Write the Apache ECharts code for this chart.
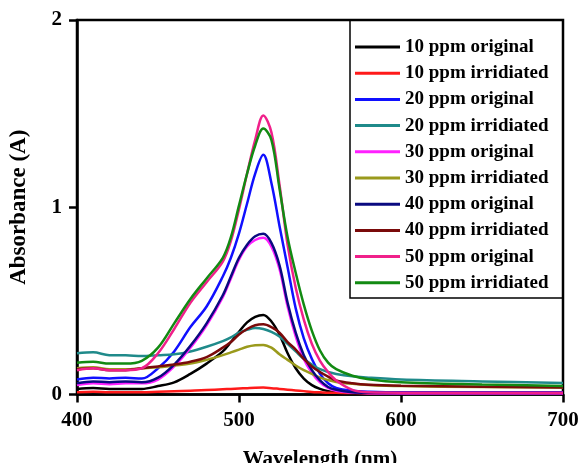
<!DOCTYPE html>
<html>
<head>
<meta charset="utf-8">
<script src="https://cdn.jsdelivr.net/npm/echarts@6/dist/echarts.min.js"></script>
<style>
  html, body { margin: 0; padding: 0; background: #fff; }
  #chart { width: 581px; height: 463px; }
</style>
</head>
<body>
<div id="chart"></div>
<script>
// Wavelength sampling grid (nm)
const wavelengths = [400,410,420,430,440,450,460,470,480,490,495,500,505,510,515,520,525,530,535,540,545,550,555,560,570,580,600,650,700];

// Absorbance spectra (A) on the grid above
const ppm10Original   = [0.030,0.035,0.030,0.030,0.030,0.045,0.065,0.110,0.165,0.230,0.280,0.335,0.385,0.415,0.425,0.390,0.320,0.220,0.140,0.085,0.050,0.030,0.018,0.012,0.008,0.006,0.005,0.005,0.005];
const ppm10Irradiated = [0.012,0.015,0.012,0.012,0.012,0.015,0.018,0.020,0.024,0.028,0.030,0.032,0.034,0.036,0.037,0.034,0.030,0.026,0.022,0.018,0.014,0.012,0.010,0.009,0.008,0.007,0.006,0.006,0.006];
const ppm20Original   = [0.080,0.090,0.085,0.090,0.085,0.140,0.230,0.360,0.470,0.630,0.730,0.860,1.020,1.180,1.280,1.130,0.900,0.680,0.460,0.300,0.190,0.110,0.060,0.035,0.020,0.015,0.012,0.012,0.012];
const ppm20Irradiated = [0.220,0.225,0.210,0.210,0.205,0.210,0.215,0.230,0.255,0.285,0.305,0.330,0.345,0.355,0.350,0.335,0.310,0.270,0.230,0.190,0.160,0.135,0.120,0.110,0.098,0.090,0.080,0.070,0.062];
const ppm30Original   = [0.050,0.060,0.055,0.060,0.060,0.080,0.150,0.250,0.370,0.520,0.620,0.720,0.790,0.825,0.837,0.790,0.670,0.470,0.310,0.190,0.115,0.065,0.035,0.020,0.010,0.007,0.006,0.006,0.006];
const ppm30Irradiated = [0.140,0.145,0.135,0.135,0.140,0.145,0.155,0.165,0.185,0.210,0.225,0.240,0.255,0.263,0.265,0.250,0.215,0.185,0.155,0.130,0.110,0.090,0.077,0.067,0.057,0.051,0.045,0.040,0.038];
const ppm40Original   = [0.060,0.070,0.065,0.070,0.065,0.090,0.160,0.260,0.380,0.530,0.630,0.730,0.800,0.845,0.858,0.810,0.690,0.490,0.330,0.210,0.130,0.075,0.040,0.025,0.012,0.009,0.008,0.008,0.008];
const ppm40Irradiated = [0.135,0.140,0.130,0.130,0.140,0.150,0.160,0.175,0.200,0.250,0.280,0.320,0.350,0.370,0.375,0.360,0.330,0.280,0.240,0.190,0.150,0.120,0.095,0.075,0.060,0.052,0.047,0.042,0.038];
const ppm50Original   = [0.130,0.140,0.130,0.130,0.140,0.220,0.350,0.490,0.600,0.710,0.820,0.990,1.180,1.360,1.490,1.400,1.120,0.800,0.570,0.400,0.270,0.180,0.120,0.075,0.025,0.012,0.010,0.010,0.010];
const ppm50Irradiated = [0.170,0.175,0.165,0.165,0.180,0.250,0.380,0.510,0.620,0.730,0.840,1.010,1.180,1.330,1.420,1.360,1.100,0.840,0.650,0.480,0.340,0.235,0.170,0.135,0.100,0.082,0.066,0.054,0.046];

const seriesNames = ['10 ppm original','10 ppm irridiated','20 ppm original','20 ppm irridiated','30 ppm original','30 ppm irridiated','40 ppm original','40 ppm irridiated','50 ppm original','50 ppm irridiated'];
const seriesValues = [ppm10Original, ppm10Irradiated, ppm20Original, ppm20Irradiated, ppm30Original, ppm30Irradiated, ppm40Original, ppm40Irradiated, ppm50Original, ppm50Irradiated];
const seriesColors = ['#000000','#ff1a1a','#1010ff','#1f8a8a','#ff20ff','#9a9a1c','#0a0a80','#7a0a0a','#f0208a','#128a12'];

const xTicks = [400, 500, 600, 700];
const yTicks = [0, 1, 2];

const FONT = '"Liberation Serif", "Times New Roman", serif';

const chart = echarts.init(document.getElementById('chart'), null, { renderer: 'canvas' });

chart.setOption({
  animation: false,
  backgroundColor: '#ffffff',
  grid: {
    left: 77, right: 18, top: 20, bottom: 68.5,
    containLabel: false,
    outerBoundsMode: 'none',
    show: true, borderColor: '#000', borderWidth: 2.5, backgroundColor: 'transparent'
  },
  xAxis: {
    type: 'value',
    min: xTicks[0], max: xTicks[xTicks.length - 1], interval: 100,
    name: 'Wavelength (nm)', nameLocation: 'middle', nameGap: 55,
    nameTextStyle: { fontFamily: FONT, fontWeight: 'bold', fontSize: 21, color: '#000' },
    axisLine: { show: true, lineStyle: { color: '#000', width: 2.5 } },
    axisTick: { show: true, length: 8, lineStyle: { color: '#000', width: 2.5 } },
    axisLabel: { margin: 16, fontFamily: FONT, fontWeight: 'bold', fontSize: 21, color: '#000' },
    splitLine: { show: false }
  },
  yAxis: {
    type: 'value',
    min: yTicks[0], max: yTicks[yTicks.length - 1], interval: 1,
    name: 'Absorbance (A)', nameLocation: 'middle', nameGap: 46, nameRotate: 90,
    nameTextStyle: { fontFamily: FONT, fontWeight: 'bold', fontSize: 23, color: '#000' },
    axisLine: { show: true, lineStyle: { color: '#000', width: 2.5 } },
    axisTick: { show: true, length: 8, lineStyle: { color: '#000', width: 2.5 } },
    axisLabel: { margin: 15, fontFamily: FONT, fontWeight: 'bold', fontSize: 21, color: '#000' },
    splitLine: { show: false }
  },
  legend: {
    orient: 'vertical',
    left: 355, top: 37,
    padding: 0,
    itemGap: 6.2,
    itemWidth: 45, itemHeight: 3,
    icon: 'rect',
    data: seriesNames,
    textStyle: { fontFamily: FONT, fontWeight: 'bold', fontSize: 19, lineHeight: 20, color: '#000' }
  },
  graphic: [{
    type: 'rect',
    shape: { x: 350, y: 20, width: 213, height: 278 },
    style: { fill: 'transparent', stroke: '#000', lineWidth: 1.5 },
    silent: true, z: 10
  }],
  series: seriesNames.map((name, i) => ({
    name: name,
    type: 'line',
    data: wavelengths.map((w, j) => [w, seriesValues[i][j]]),
    smooth: 0.35,
    showSymbol: false,
    color: seriesColors[i],
    lineStyle: { width: 2.5, color: seriesColors[i] }
  }))
});
</script>
</body>
</html>
